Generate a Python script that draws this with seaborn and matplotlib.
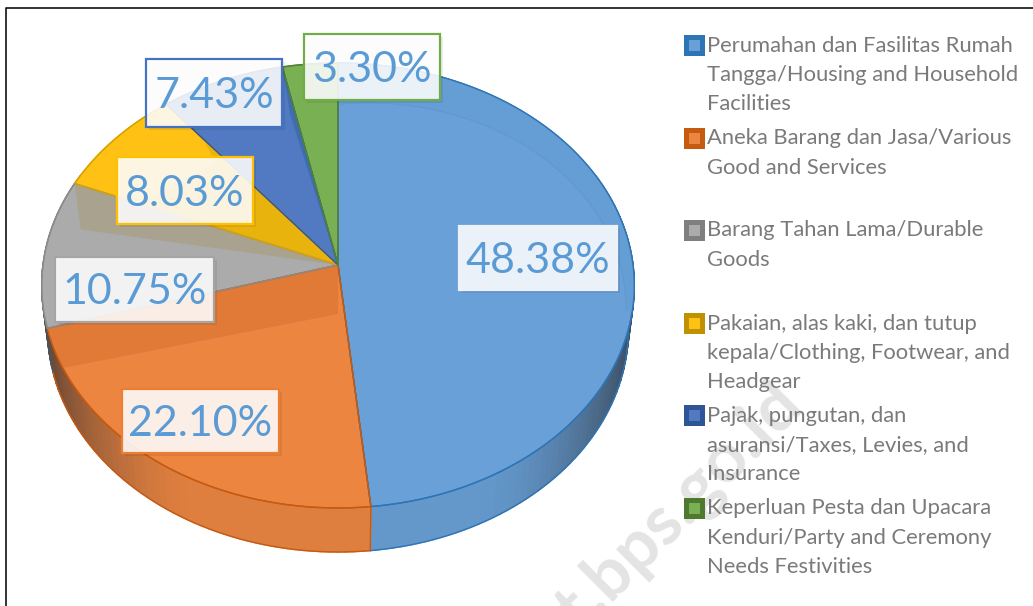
import numpy as np
import pandas as pd
import seaborn as sns
import matplotlib.pyplot as plt
from matplotlib.colors import to_rgb
from matplotlib.patches import Rectangle

# ----------------------------
# DATA
# ----------------------------
shares = [48.38, 22.10, 10.75, 8.03, 7.43, 3.30]
value_labels = ["48.38%", "22.10%", "10.75%", "8.03%", "7.43%", "3.30%"]
legend_labels = [
    "Perumahan dan Fasilitas Rumah\nTangga/Housing and Household\nFacilities",
    "Aneka Barang dan Jasa/Various\nGood and Services",
    "Barang Tahan Lama/Durable\nGoods",
    "Pakaian, alas kaki, dan tutup\nkepala/Clothing, Footwear, and\nHeadgear",
    "Pajak, pungutan, dan\nasuransi/Taxes, Levies, and\nInsurance",
    "Keperluan Pesta dan Upacara\nKenduri/Party and Ceremony\nNeeds Festivities",
]

# ----------------------------
# STYLE
# ----------------------------
face_colors = ["#68A0D7", "#EC8540", "#ABABAB", "#FEC114", "#517AC2", "#79B054"]
edge_colors = ["#2E75B6", "#C55A11", "#8C8C8C", "#D9A400", "#2F5597", "#548235"]
swatch_colors = ["#2E75B6", "#C55A11", "#7F7F7F", "#BF9000", "#2F5597", "#4E7A30"]
label_edges = ["#EDF2FA", "#ED7D31", "#A5A5A5", "#FFC000", "#4472C4", "#70AD47"]
label_boxes = [(459, 226, 158, 64), (122, 389, 157, 64), (55, 257, 159, 65),
               (117, 157, 136, 67), (146, 59, 136, 68), (304, 34, 136, 66)]
legend_y = [45.5, 138.5, 230.5, 323.5, 415.5, 508.5]

cx, cy = 338, 265
rx, ry, persp = 295, 220.6, 0.092
depth, rim_scale = 44, 0.98

sns.set_theme(style="white")
plt.rcParams["font.family"] = ["Lato", "DejaVu Sans"]

fig, ax = plt.subplots(figsize=(10.33, 6.06), dpi=100)
fig.subplots_adjust(0, 0, 1, 1)


def top_point(deg, r=1.0):
    t = np.radians(deg)
    u, v = r * np.sin(t), -r * np.cos(t)
    w = 1 - persp * v
    return cx + rx * u / w, cy + ry * v / w


def bottom_point(deg):
    x, y = top_point(deg)
    return cx + (x - cx) * rim_scale, y + depth


def shade(color, amount):
    return tuple(np.array(to_rgb(color)) * (1 - amount) + np.array((0.16, 0.16, 0.18)) * amount)


def arc(a, b, r=1.0):
    return [top_point(d, r) for d in np.linspace(a, b, max(int(abs(b - a)) * 2, 2))]


# slice limits come from the shares
ends = np.cumsum(shares) / sum(shares) * 360
starts = np.r_[0, ends[:-1]]

# ----------------------------
# WATERMARK
# ----------------------------
ax.text(806, 408, "t.bps.go.id", rotation=45, ha="right", va="baseline", fontsize=50,
        fontweight="bold", color="#E4E4E4", zorder=0, rotation_mode="anchor")

# ----------------------------
# SIDE WALL
# ----------------------------
for a, b, col in zip(starts, ends, face_colors):
    lo, hi = max(a, 65), min(b, 295)
    if hi <= lo:
        continue
    steps = np.arange(lo, hi + 1.5, 1.5)
    steps[-1] = hi
    for d0, d1 in zip(steps[:-1], steps[1:]):
        amount = np.clip((abs(np.sin(np.radians(d0))) - 0.45) / 0.55, 0, 1) ** 1.6 * 0.66 + 0.07
        c = shade(col, amount)
        poly = [top_point(d0), top_point(d1), bottom_point(d1), bottom_point(d0)]
        ax.fill(*zip(*poly), color=c, lw=1.1, zorder=1)

d = np.linspace(65, ends[0], 200)
ax.plot(*zip(*[bottom_point(i) for i in d]), color="#2E75B6", lw=1, zorder=2)
d = np.linspace(ends[0], ends[1], 120)
ax.plot(*zip(*[bottom_point(i) for i in d]), color="#C55A11", lw=1, zorder=2)
ax.plot(*zip(top_point(ends[0]), bottom_point(ends[0])), color="#C55A11", lw=1, zorder=2)

# ----------------------------
# TOP FACE
# ----------------------------
for a, b, col, edge in zip(starts, ends, face_colors, edge_colors):
    poly = [(cx, cy)] + arc(a, b)
    ax.fill(*zip(*poly), facecolor=col, edgecolor=edge, lw=1, zorder=3)

# soft reflections on the top face, placed relative to slice limits
bevel_deg = np.linspace(0, 102, 120)
bevel_r = np.linspace(0.78, 0.98, 120)
bevel = [top_point(t, r) for t, r in zip(bevel_deg, bevel_r)]
blue_band = arc(0, 102) + bevel[::-1]
ax.fill(*zip(*blue_band), color="#659ED5", lw=0, zorder=4)
ax.plot(*zip(*bevel), color="#5F98CE", lw=0.7, zorder=4)

orange_dark = [(cx, cy)] + arc(ends[1], ends[1] - 10.5) + [top_point(180, 0.22)]
ax.fill(*zip(*orange_dark), color="#E07A36", lw=0, zorder=4)
ax.plot(*zip(top_point(ends[1] - 10.5), top_point(180, 0.22)), color="#E58A4C", lw=0.6, zorder=4)
grey_band = [(cx, cy), top_point(ends[2]), top_point(ends[2] - 12, 0.9)]
ax.fill(*zip(*grey_band), color="#A8A28F", lw=0, zorder=4)
yellow_dark = [(cx, cy), top_point(ends[3], 0.78), top_point(ends[3] - 3, 0.65), top_point(ends[2], 0.75)]
ax.fill(*zip(*yellow_dark), color="#E9B30E", lw=0, zorder=4)
blue_dark = [(cx, cy), top_point(ends[4]), top_point(ends[4] - 1.5, 0.75)]
ax.fill(*zip(*blue_dark), color="#3F6EB0", lw=0, zorder=4)
for a, b, edge in zip(starts, ends, edge_colors):
    ax.plot(*zip(*([(cx, cy)] + arc(a, b) + [(cx, cy)])), color=edge, lw=1, zorder=4)

# ----------------------------
# VALUE LABELS
# ----------------------------
for text, box, edge in zip(value_labels, label_boxes, label_edges):
    x, y, w, h = box
    ax.add_patch(Rectangle((x + 3, y + 3), w, h, facecolor="#000000", alpha=0.07, lw=0, zorder=5))
    ax.add_patch(Rectangle((x, y), w, h, facecolor="#FFFFFF", alpha=0.88, edgecolor="none", zorder=6))
    ax.add_patch(Rectangle((x, y), w, h, facecolor="none", edgecolor=edge, lw=1.6, zorder=7))
    ax.text(x + w / 2, y + h / 2 + 3, text, ha="center", va="center", fontsize=31,
            color="#5B9BD5", zorder=8)

# ----------------------------
# LEGEND
# ----------------------------
legend_df = pd.DataFrame({"x": [694.5] * len(legend_y), "y": legend_y, "name": legend_labels})
sns.scatterplot(data=legend_df, x="x", y="y", hue="name", palette=swatch_colors, marker="s",
                s=250, linewidth=0, legend=False, ax=ax, zorder=9)
sns.scatterplot(data=legend_df, x="x", y="y", hue="name", palette=face_colors, marker="s",
                s=60, linewidth=0, legend=False, ax=ax, zorder=10)

for first_y, label in zip(legend_y, legend_labels):
    for i, line in enumerate(label.split("\n")):
        ax.text(707, first_y + i * 29.3, line, ha="left", va="center", fontsize=15.8,
                color="#7A7A7A", zorder=9)

# ----------------------------
# PAGE FRAME
# ----------------------------
ax.plot([5.5, 5.5, 1033], [606, 7.5, 7.5], color="#111111", lw=1.2, zorder=11)

ax.set_xlim(0, 1033)
ax.set_ylim(606, 0)
ax.set_axis_off()
fig.savefig("out.png", dpi=100)
